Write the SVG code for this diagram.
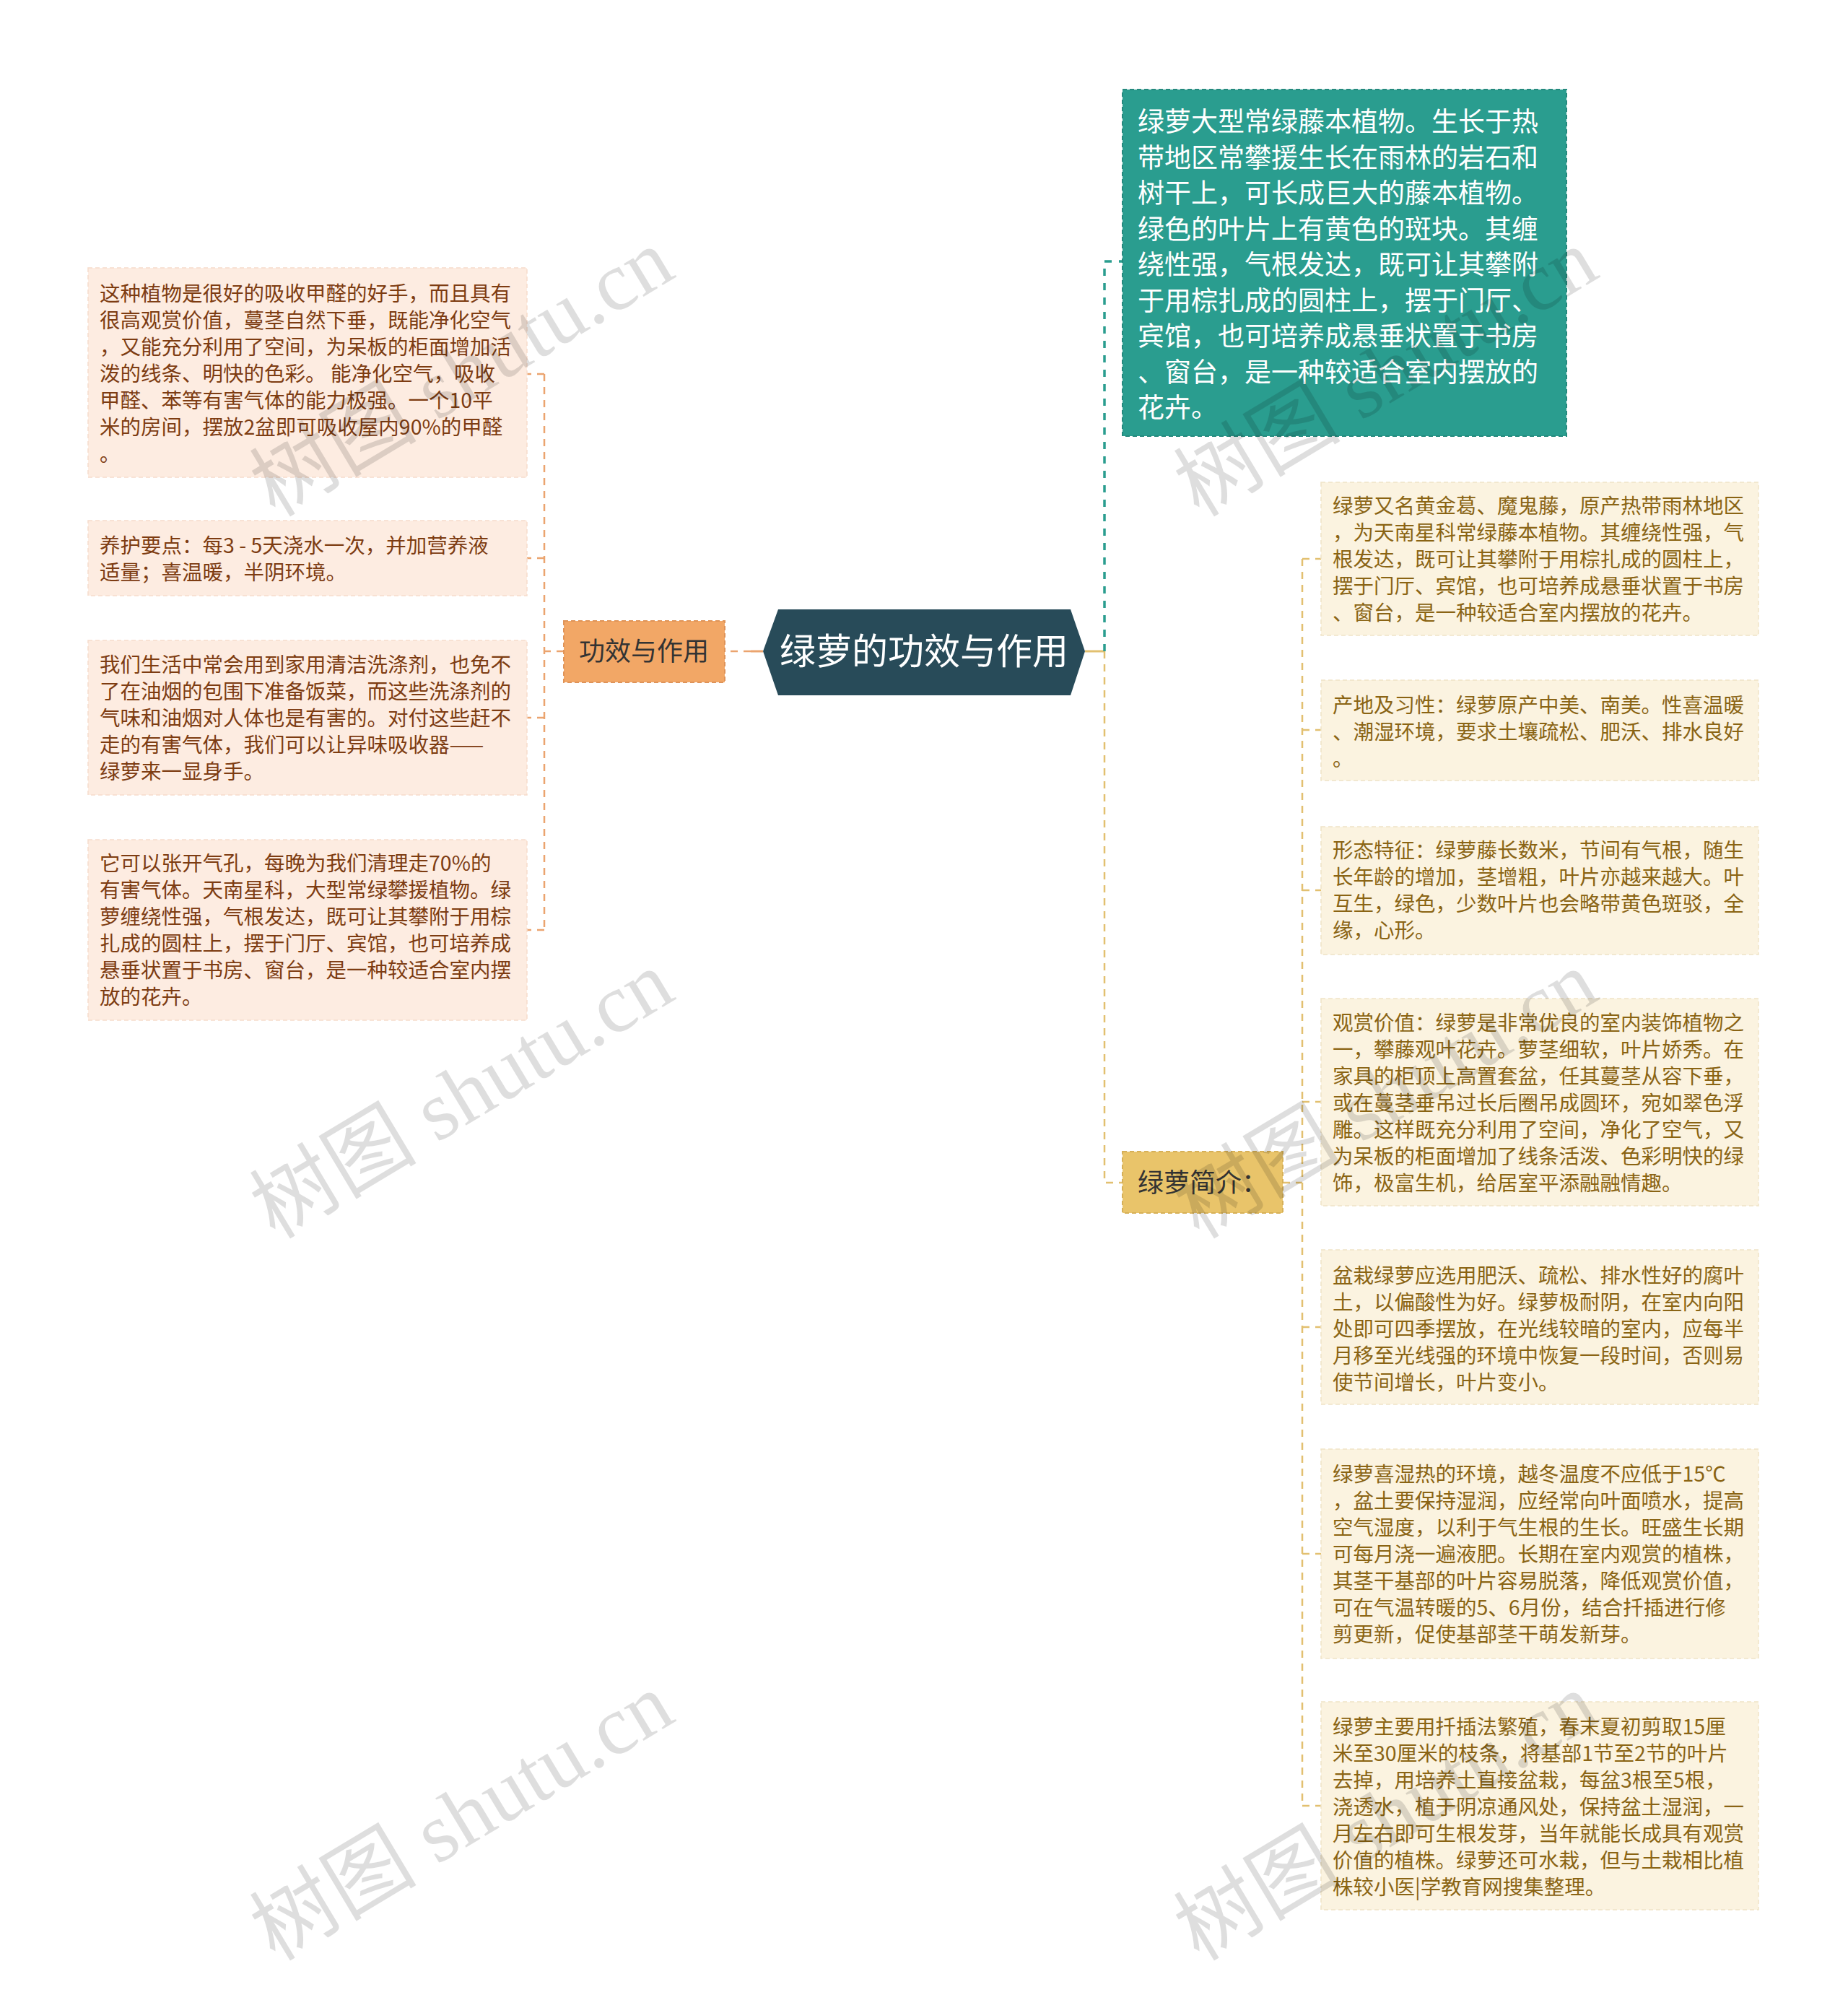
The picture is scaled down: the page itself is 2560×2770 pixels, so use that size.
<svg xmlns="http://www.w3.org/2000/svg" width="2560" height="2770" viewBox="0 0 2560 2770">
<style>
.t{font-family:"Noto Sans CJK SC","Noto Sans",sans-serif;}
.ll{font-size:28.5px;fill:#7d3c12;}
.rl{font-size:28.5px;fill:#8a6414;}
.lbox{fill:#fdece1;stroke:#f6dccb;stroke-width:1.5;stroke-dasharray:6,4;}
.rbox{fill:#fbf3e0;stroke:#f0e4c6;stroke-width:1.5;stroke-dasharray:6,4;}
.oc{fill:none;stroke:#eba46f;stroke-width:2.5;stroke-dasharray:10,8;}
.yc{fill:none;stroke:#e2c070;stroke-width:2.5;stroke-dasharray:10,8;}
.tc{fill:none;stroke:#2a9d8f;stroke-width:3.5;stroke-dasharray:10,10;}
.wm{font-family:"Liberation Serif","Noto Sans CJK SC",serif;font-size:116px;fill:#000;fill-opacity:0.13;}
</style>
<rect width="2560" height="2770" fill="#ffffff"/>
<g id="connectors">
<path d="M1057,902 H1040" fill="none" stroke="#eba46f" stroke-width="3"/>
<path d="M1040,902 H1005" class="oc"/>
<path d="M781,902 H754" class="oc"/>
<path d="M754,518 V1288" class="oc"/>
<path d="M754,518 H730 M754,773 H730 M754,994 H730 M754,1288 H730" class="oc"/>
<path d="M1503,902 H1530" fill="none" stroke="#e2c070" stroke-width="3"/>
<path d="M1530,902 V362 H1555" class="tc"/>
<path d="M1530,902 V1638 H1555" class="yc"/>
<path d="M1777,1638 H1804" class="yc"/>
<path d="M1804,774 V2501" class="yc"/>
<path d="M1804,774 H1830 M1804,1011 H1830 M1804,1233 H1830 M1804,1526 H1830 M1804,1838 H1830 M1804,2152 H1830 M1804,2501 H1830" class="yc"/>
</g>
<g id="root">
<polygon points="1057,902 1078,844 1483,844 1503,902 1483,963 1078,963" fill="#284b59"/>
<text class="t" x="1280" y="920" text-anchor="middle" font-size="50" fill="#ffffff">绿萝的功效与作用</text>
</g>
<g id="n-gongxiao">
<rect x="781" y="860" width="223" height="85" fill="#f2a766" stroke="#df9358" stroke-width="2" stroke-dasharray="6,4"/>
<text class="t" x="892" y="915" text-anchor="middle" font-size="36" fill="#333333">功效与作用</text>
</g>
<g id="n-intro-top">
<rect x="1555" y="124" width="615" height="480" fill="#2a9d8f" stroke="#24897d" stroke-width="2" stroke-dasharray="6,4"/>
<text class="t" font-size="37" fill="#ffffff">
<tspan x="1576" y="182">绿萝大型常绿藤本植物。生长于热</tspan>
<tspan x="1576" y="231.5">带地区常攀援生长在雨林的岩石和</tspan>
<tspan x="1576" y="281">树干上，可长成巨大的藤本植物。</tspan>
<tspan x="1576" y="330.5">绿色的叶片上有黄色的斑块。其缠</tspan>
<tspan x="1576" y="380">绕性强，气根发达，既可让其攀附</tspan>
<tspan x="1576" y="429.5">于用棕扎成的圆柱上，摆于门厅、</tspan>
<tspan x="1576" y="479">宾馆，也可培养成悬垂状置于书房</tspan>
<tspan x="1576" y="528.5">、窗台，是一种较适合室内摆放的</tspan>
<tspan x="1576" y="578">花卉。</tspan>
</text>
</g>
<g id="n-jianjie">
<rect x="1555" y="1595" width="222" height="85" fill="#e9c46a" stroke="#d6b058" stroke-width="2" stroke-dasharray="6,4"/>
<text class="t" x="1576" y="1651" font-size="36" fill="#333333">绿萝简介：</text>
</g>
<g id="l1">
<rect class="lbox" x="122" y="371" width="608" height="290"/>
<text class="t ll">
<tspan x="138" y="417">这种植物是很好的吸收甲醛的好手，而且具有</tspan>
<tspan x="138" y="454">很高观赏价值，蔓茎自然下垂，既能净化空气</tspan>
<tspan x="138" y="491">，又能充分利用了空间，为呆板的柜面增加活</tspan>
<tspan x="138" y="528">泼的线条、明快的色彩。 能净化空气，吸收</tspan>
<tspan x="138" y="565">甲醛、苯等有害气体的能力极强。一个10平</tspan>
<tspan x="138" y="602">米的房间，摆放2盆即可吸收屋内90%的甲醛</tspan>
<tspan x="138" y="639">。</tspan>
</text>
</g>
<g id="l2">
<rect class="lbox" x="122" y="721" width="608" height="104"/>
<text class="t ll">
<tspan x="138" y="766">养护要点：每3 - 5天浇水一次，并加营养液</tspan>
<tspan x="138" y="803">适量；喜温暖，半阴环境。</tspan>
</text>
</g>
<g id="l3">
<rect class="lbox" x="122" y="887" width="608" height="214"/>
<text class="t ll">
<tspan x="138" y="931">我们生活中常会用到家用清洁洗涤剂，也免不</tspan>
<tspan x="138" y="968">了在油烟的包围下准备饭菜，而这些洗涤剂的</tspan>
<tspan x="138" y="1005">气味和油烟对人体也是有害的。对付这些赶不</tspan>
<tspan x="138" y="1042">走的有害气体，我们可以让异味吸收器——</tspan>
<tspan x="138" y="1079">绿萝来一显身手。</tspan>
</text>
</g>
<g id="l4">
<rect class="lbox" x="122" y="1163" width="608" height="250"/>
<text class="t ll">
<tspan x="138" y="1206">它可以张开气孔，每晚为我们清理走70%的</tspan>
<tspan x="138" y="1243">有害气体。天南星科，大型常绿攀援植物。绿</tspan>
<tspan x="138" y="1280">萝缠绕性强，气根发达，既可让其攀附于用棕</tspan>
<tspan x="138" y="1317">扎成的圆柱上，摆于门厅、宾馆，也可培养成</tspan>
<tspan x="138" y="1354">悬垂状置于书房、窗台，是一种较适合室内摆</tspan>
<tspan x="138" y="1391">放的花卉。</tspan>
</text>
</g>
<g id="r1">
<rect class="rbox" x="1830" y="668" width="606" height="212"/>
<text class="t rl">
<tspan x="1846" y="711">绿萝又名黄金葛、魔鬼藤，原产热带雨林地区</tspan>
<tspan x="1846" y="748">，为天南星科常绿藤本植物。其缠绕性强，气</tspan>
<tspan x="1846" y="785">根发达，既可让其攀附于用棕扎成的圆柱上，</tspan>
<tspan x="1846" y="822">摆于门厅、宾馆，也可培养成悬垂状置于书房</tspan>
<tspan x="1846" y="859">、窗台，是一种较适合室内摆放的花卉。</tspan>
</text>
</g>
<g id="r2">
<rect class="rbox" x="1830" y="942" width="606" height="139"/>
<text class="t rl">
<tspan x="1846" y="987">产地及习性：绿萝原产中美、南美。性喜温暖</tspan>
<tspan x="1846" y="1024">、潮湿环境，要求土壤疏松、肥沃、排水良好</tspan>
<tspan x="1846" y="1061">。</tspan>
</text>
</g>
<g id="r3">
<rect class="rbox" x="1830" y="1145" width="606" height="177"/>
<text class="t rl">
<tspan x="1846" y="1188">形态特征：绿萝藤长数米，节间有气根，随生</tspan>
<tspan x="1846" y="1225">长年龄的增加，茎增粗，叶片亦越来越大。叶</tspan>
<tspan x="1846" y="1262">互生，绿色，少数叶片也会略带黄色斑驳，全</tspan>
<tspan x="1846" y="1299">缘，心形。</tspan>
</text>
</g>
<g id="r4">
<rect class="rbox" x="1830" y="1383" width="606" height="287"/>
<text class="t rl">
<tspan x="1846" y="1427">观赏价值：绿萝是非常优良的室内装饰植物之</tspan>
<tspan x="1846" y="1464">一，攀藤观叶花卉。萝茎细软，叶片娇秀。在</tspan>
<tspan x="1846" y="1501">家具的柜顶上高置套盆，任其蔓茎从容下垂，</tspan>
<tspan x="1846" y="1538">或在蔓茎垂吊过长后圈吊成圆环，宛如翠色浮</tspan>
<tspan x="1846" y="1575">雕。这样既充分利用了空间，净化了空气，又</tspan>
<tspan x="1846" y="1612">为呆板的柜面增加了线条活泼、色彩明快的绿</tspan>
<tspan x="1846" y="1649">饰，极富生机，给居室平添融融情趣。</tspan>
</text>
</g>
<g id="r5">
<rect class="rbox" x="1830" y="1731" width="606" height="214"/>
<text class="t rl">
<tspan x="1846" y="1777">盆栽绿萝应选用肥沃、疏松、排水性好的腐叶</tspan>
<tspan x="1846" y="1814">土，以偏酸性为好。绿萝极耐阴，在室内向阳</tspan>
<tspan x="1846" y="1851">处即可四季摆放，在光线较暗的室内，应每半</tspan>
<tspan x="1846" y="1888">月移至光线强的环境中恢复一段时间，否则易</tspan>
<tspan x="1846" y="1925">使节间增长，叶片变小。</tspan>
</text>
</g>
<g id="r6">
<rect class="rbox" x="1830" y="2007" width="606" height="290"/>
<text class="t rl">
<tspan x="1846" y="2052">绿萝喜湿热的环境，越冬温度不应低于15℃</tspan>
<tspan x="1846" y="2089">，盆土要保持湿润，应经常向叶面喷水，提高</tspan>
<tspan x="1846" y="2126">空气湿度，以利于气生根的生长。旺盛生长期</tspan>
<tspan x="1846" y="2163">可每月浇一遍液肥。长期在室内观赏的植株，</tspan>
<tspan x="1846" y="2200">其茎干基部的叶片容易脱落，降低观赏价值，</tspan>
<tspan x="1846" y="2237">可在气温转暖的5、6月份，结合扦插进行修</tspan>
<tspan x="1846" y="2274">剪更新，促使基部茎干萌发新芽。</tspan>
</text>
</g>
<g id="r7">
<rect class="rbox" x="1830" y="2357" width="606" height="288"/>
<text class="t rl">
<tspan x="1846" y="2402">绿萝主要用扦插法繁殖，春末夏初剪取15厘</tspan>
<tspan x="1846" y="2439">米至30厘米的枝条，将基部1节至2节的叶片</tspan>
<tspan x="1846" y="2476">去掉，用培养土直接盆栽，每盆3根至5根，</tspan>
<tspan x="1846" y="2513">浇透水，植于阴凉通风处，保持盆土湿润，一</tspan>
<tspan x="1846" y="2550">月左右即可生根发芽，当年就能长成具有观赏</tspan>
<tspan x="1846" y="2587">价值的植株。绿萝还可水栽，但与土栽相比植</tspan>
<tspan x="1846" y="2624">株较小医|学教育网搜集整理。</tspan>
</text>
</g>
<g id="watermark">
<text class="wm" transform="translate(660,550) rotate(-31)" text-anchor="middle">树图 shutu.cn</text>
<text class="wm" transform="translate(660,1550) rotate(-31)" text-anchor="middle">树图 shutu.cn</text>
<text class="wm" transform="translate(660,2550) rotate(-31)" text-anchor="middle">树图 shutu.cn</text>
<text class="wm" transform="translate(1940,550) rotate(-31)" text-anchor="middle">树图 shutu.cn</text>
<text class="wm" transform="translate(1940,1550) rotate(-31)" text-anchor="middle">树图 shutu.cn</text>
<text class="wm" transform="translate(1940,2550) rotate(-31)" text-anchor="middle">树图 shutu.cn</text>
</g>
</svg>
